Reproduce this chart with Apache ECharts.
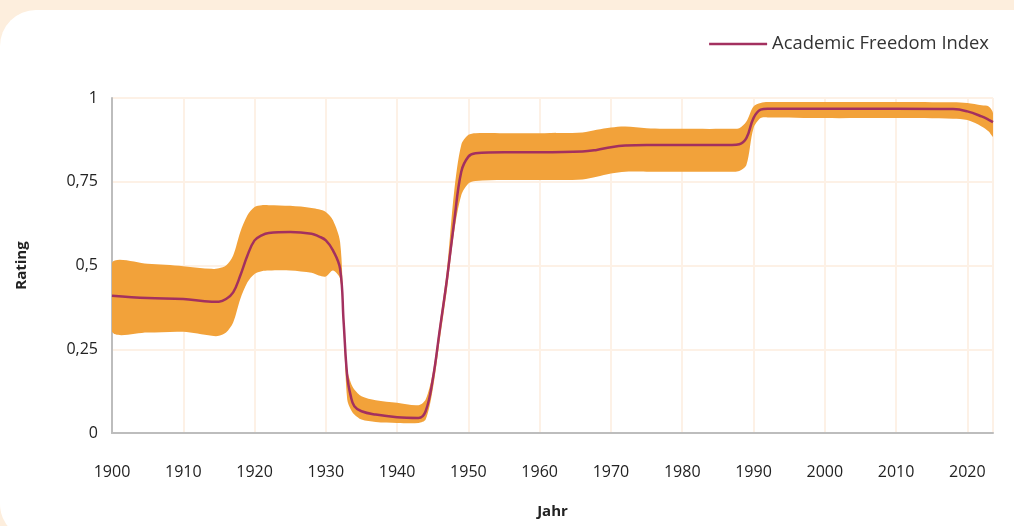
<!DOCTYPE html>
<html>
<head>
<meta charset="utf-8">
<script src="https://cdn.jsdelivr.net/npm/echarts@6/dist/echarts.min.js"></script>
<style>
  html, body { margin: 0; padding: 0; background: #fdeedd; overflow: hidden; }
  .panel { position: absolute; left: 0; top: 10px; width: 1100px; height: 530px; background: #fff; border-radius: 36px; }
  #main { position: absolute; left: 0; top: 0; width: 1014px; height: 526px; }
</style>
</head>
<body>
<div class="panel"></div>
<div id="main"></div>
<script>
// Jahr
var years = [1900, 1905, 1910, 1914, 1915, 1916, 1917, 1918, 1919, 1920, 1921, 1922, 1925, 1928, 1929, 1930, 1931, 1932, 1932.5,
  1933, 1933.5, 1934, 1935, 1937, 1940, 1943, 1944, 1945, 1946, 1947, 1948, 1949, 1950, 1951, 1955, 1960, 1966, 1968,
  1970, 1972, 1975, 1980, 1987, 1988, 1989, 1990, 1991, 1992, 2000, 2010, 2018, 2020, 2022, 2023, 2023.6];
// Academic Freedom Index
var afi = [0.41, 0.403, 0.40, 0.392, 0.392, 0.40, 0.42, 0.47, 0.53, 0.575, 0.59, 0.597, 0.60, 0.595, 0.587, 0.575, 0.545, 0.49, 0.33,
  0.17, 0.11, 0.08, 0.065, 0.055, 0.047, 0.045, 0.065, 0.16, 0.31, 0.46, 0.63, 0.78, 0.825, 0.835, 0.838, 0.838, 0.84, 0.845,
  0.853, 0.858, 0.86, 0.86, 0.86, 0.862, 0.88, 0.94, 0.965, 0.968, 0.968, 0.968, 0.967, 0.96, 0.945, 0.935, 0.928];
// Konfidenzintervall
var low = [0.302, 0.30, 0.302, 0.29, 0.29, 0.30, 0.33, 0.40, 0.45, 0.475, 0.483, 0.485, 0.485, 0.478, 0.47, 0.467, 0.485, 0.46, 0.30,
  0.10, 0.07, 0.055, 0.04, 0.033, 0.03, 0.03, 0.04, 0.13, 0.28, 0.43, 0.60, 0.71, 0.745, 0.752, 0.755, 0.755, 0.757, 0.765,
  0.775, 0.78, 0.78, 0.78, 0.78, 0.782, 0.80, 0.91, 0.94, 0.942, 0.94, 0.94, 0.938, 0.934, 0.915, 0.90, 0.885];
var high = [0.508, 0.505, 0.498, 0.49, 0.492, 0.50, 0.53, 0.60, 0.65, 0.675, 0.68, 0.68, 0.678, 0.672, 0.668, 0.66, 0.635, 0.57, 0.36,
  0.19, 0.15, 0.13, 0.11, 0.098, 0.09, 0.083, 0.10, 0.18, 0.33, 0.49, 0.72, 0.86, 0.89, 0.895, 0.895, 0.895, 0.897, 0.905,
  0.912, 0.915, 0.91, 0.908, 0.908, 0.91, 0.93, 0.975, 0.985, 0.988, 0.988, 0.988, 0.987, 0.985, 0.978, 0.975, 0.955];

var bandData = years.map(function (y, i) { return [y, low[i], high[i]]; });
var lineData = years.map(function (y, i) { return [y, afi[i]]; });

// band as one polygon: upper edge left to right, lower edge back
function renderBand(params, api) {
  if (params.dataIndex !== 0) return { type: 'group', children: [] };
  var up = [], dn = [];
  for (var i = 0; i < bandData.length; i++) {
    up.push(api.coord([bandData[i][0], bandData[i][2]]));
    dn.push(api.coord([bandData[i][0], bandData[i][1]]));
  }
  return {
    type: 'polygon',
    shape: { points: up.concat(dn.reverse()), smooth: 0.3 },
    style: { fill: '#f2a23a' },
    silent: true
  };
}

var myChart = echarts.init(document.getElementById('main'));
var font = 'Open Sans';
var option = {
  animation: false,
  textStyle: { fontFamily: font },
  grid: { left: 112, top: 98, width: 881, height: 335 },
  legend: {
    data: ['Academic Freedom Index'],
    right: 20,
    top: 30,
    icon: 'rect',
    itemWidth: 58,
    itemHeight: 2.5,
    itemGap: 6,
    textStyle: { fontSize: 18.4, color: '#333', fontFamily: font }
  },
  xAxis: {
    type: 'value',
    min: 1900,
    max: 2023.6,
    interval: 10,
    name: 'Jahr',
    nameLocation: 'middle',
    nameGap: 71,
    nameTextStyle: { fontSize: 15, fontWeight: 'bold', color: '#222' },
    axisLine: { show: true, lineStyle: { color: '#bdbdbd', width: 2 } },
    axisTick: { show: false },
    axisLabel: {
      margin: 31, fontSize: 16, color: '#222',
      showMaxLabel: false,
      formatter: function (v) { return v % 10 === 0 ? String(v) : ''; }
    },
    splitLine: { show: true, lineStyle: { color: '#fdf1e6', width: 2 } }
  },
  yAxis: {
    type: 'value',
    min: 0,
    max: 1,
    interval: 0.25,
    name: 'Rating',
    nameLocation: 'middle',
    nameGap: 83,
    nameTextStyle: { fontSize: 15, fontWeight: 'bold', color: '#222' },
    axisLine: { show: true, lineStyle: { color: '#bdbdbd', width: 2 } },
    axisTick: { show: false },
    axisLabel: {
      margin: 14, fontSize: 16, color: '#222',
      formatter: function (v) { return String(v).replace('.', ','); }
    },
    splitLine: { show: true, lineStyle: { color: '#fdf1e6', width: 2 } }
  },
  series: [
    {
      name: 'band',
      type: 'custom',
      renderItem: renderBand,
      data: bandData,
      encode: { x: 0, y: 1 },
      clip: true,
      z: 1
    },
    {
      name: 'Academic Freedom Index',
      type: 'line',
      data: lineData,
      smooth: 0.4,
      symbol: 'none',
      color: '#a3305f',
      lineStyle: { color: '#a3305f', width: 2.5 },
      z: 3
    }
  ]
};
myChart.setOption(option);
</script>
</body>
</html>
